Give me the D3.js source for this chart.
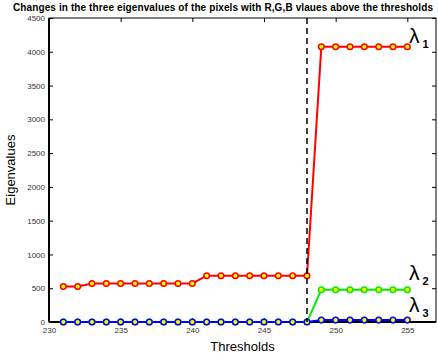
<!DOCTYPE html>
<html>
<head>
<meta charset="utf-8">
<script src="https://cdn.jsdelivr.net/npm/d3@7"></script>
<style>
  html, body { margin: 0; padding: 0; background: #fff; }
  svg { display: block; font-family: Arial, "Liberation Sans", Helvetica, sans-serif; }
</style>
</head>
<body>
<svg width="438" height="360"></svg>
<script>
// thresholds and the three eigenvalue series
const thresholds = [231,232,233,234,235,236,237,238,239,240,241,242,243,244,245,246,247,248,249,250,251,252,253,254,255];
const lambda1 = [525,525,570,570,570,570,570,570,570,570,685,685,685,685,685,685,685,685,4075,4075,4075,4075,4075,4075,4075];
const lambda2 = [0,0,0,0,0,0,0,0,0,0,0,0,0,0,0,0,0,0,478,478,478,478,478,478,478];
const lambda3 = [0,0,0,0,0,0,0,0,0,0,0,0,0,0,0,0,0,0,28,28,28,28,28,28,28];
const xTicks = [230,235,240,245,250,255];
const yTicks = [0,500,1000,1500,2000,2500,3000,3500,4000,4500];
const cutoff = 248;

const svg = d3.select("svg");
const margin = {top: 18, right: 2, bottom: 38, left: 49};
const W = +svg.attr("width"), H = +svg.attr("height");

const x = d3.scaleLinear().domain([230, 257]).range([margin.left, W - margin.right]);
const y = d3.scaleLinear().domain([0, 4500]).range([H - margin.bottom, margin.top]);

// title
svg.append("text")
    .attr("x", 13).attr("y", 11)
    .attr("textLength", 420).attr("lengthAdjust", "spacing")
    .style("font-size", "10px").style("font-weight", "bold")
    .text("Changes in the three eigenvalues of the pixels with R,G,B vlaues above the thresholds");

// axes (ticks inward, box around)
const axisStyle = g => g.call(g => g.select(".domain").remove())
    .call(g => g.selectAll("text").style("font-size", "8px").attr("fill", "#333"))
    .call(g => g.selectAll("line").attr("stroke", "#000"));

svg.append("g")
    .attr("transform", `translate(0,${y(0)})`)
    .call(d3.axisBottom(x).tickValues(xTicks).tickSize(-4).tickPadding(5).tickFormat(d3.format("d")))
    .call(axisStyle);
svg.append("g")
    .attr("transform", `translate(0,${y(4500)})`)
    .call(d3.axisTop(x).tickValues(xTicks).tickSize(-4).tickFormat(""))
    .call(axisStyle);
svg.append("g")
    .attr("transform", `translate(${x(230)},0)`)
    .call(d3.axisLeft(y).tickValues(yTicks).tickSize(-4).tickPadding(4).tickFormat(d3.format("d")))
    .call(axisStyle);
svg.append("g")
    .attr("transform", `translate(${x(257)},0)`)
    .call(d3.axisRight(y).tickValues(yTicks).tickSize(-4).tickFormat(""))
    .call(axisStyle);

svg.append("rect")
    .attr("x", x(230)).attr("y", y(4500))
    .attr("width", x(257) - x(230)).attr("height", y(0) - y(4500))
    .attr("fill", "none").attr("stroke", "#000").attr("stroke-width", 1);
// heavier left and bottom edges
svg.append("line").attr("x1", x(230)).attr("x2", x(230)).attr("y1", y(4500)).attr("y2", y(0))
    .attr("stroke", "#000").attr("stroke-width", 2);
svg.append("line").attr("x1", x(230)).attr("x2", x(257)).attr("y1", y(0)).attr("y2", y(0))
    .attr("stroke", "#000").attr("stroke-width", 2);

// axis labels
svg.append("text")
    .attr("x", (x(230) + x(257)) / 2).attr("y", 351)
    .attr("text-anchor", "middle").style("font-size", "13px")
    .text("Thresholds");
svg.append("text")
    .attr("transform", `translate(15,${(y(0) + y(4500)) / 2}) rotate(-90)`)
    .attr("text-anchor", "middle").style("font-size", "13px")
    .text("Eigenvalues");

// series
const series = [
    {vals: lambda1, color: "#ff0000"},
    {vals: lambda2, color: "#00ee00"},
    {vals: lambda3, color: "#0000ff"}
];
const line = d3.line().x(d => x(d[0])).y(d => y(d[1]));

series.forEach(s => {
    const pts = thresholds.map((t, i) => [t, s.vals[i]]);
    svg.append("path").datum(pts)
        .attr("d", line).attr("fill", "none")
        .attr("stroke", s.color).attr("stroke-width", 2);
});
series.forEach(s => {
    const pts = thresholds.map((t, i) => [t, s.vals[i]]);
    svg.append("g").selectAll("circle").data(pts).join("circle")
        .attr("cx", d => x(d[0])).attr("cy", d => y(d[1])).attr("r", 2.8)
        .attr("fill", "#ffff00").attr("stroke", s.color).attr("stroke-width", 1.5);
});

// threshold marker
svg.append("line")
    .attr("x1", x(cutoff)).attr("x2", x(cutoff))
    .attr("y1", y(4500)).attr("y2", y(0))
    .attr("stroke", "#000").attr("stroke-width", 1.5)
    .attr("stroke-dasharray", "6,4");

// lambda labels
const labels = [
    {sub: "1", v: 4075, dy: -4},
    {sub: "2", v: 478, dy: -10},
    {sub: "3", v: 28, dy: -8}
];
labels.forEach(l => {
    const t = svg.append("text")
        .attr("x", 409).attr("y", y(l.v) + l.dy)
        .style("font-size", "21px");
    t.append("tspan").text("λ");
    t.append("tspan").attr("dy", 5).attr("dx", 3)
        .style("font-size", "11px").style("font-weight", "bold").text(l.sub);
});
</script>
</body>
</html>
